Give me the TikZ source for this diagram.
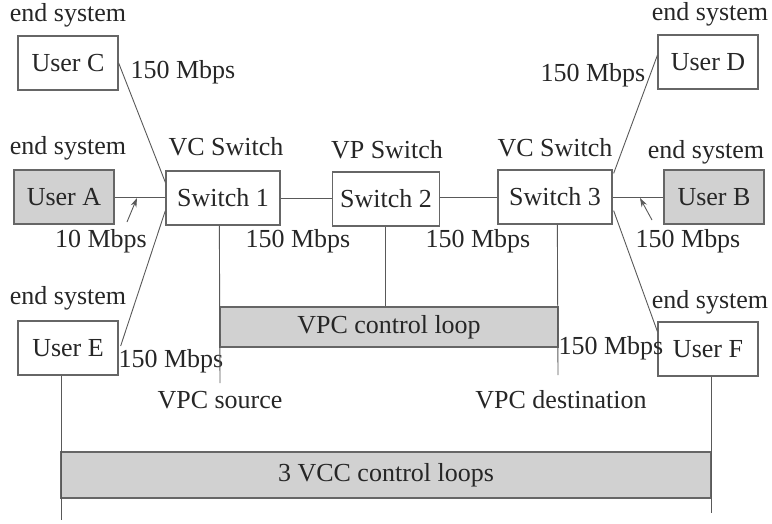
\documentclass[tikz,border=0pt]{standalone}
\usepackage{fontspec}
\setmainfont{Liberation Serif}
\usetikzlibrary{calc,arrows.meta}
\begin{document}
\begin{tikzpicture}[x=1pt,y=-1pt,
  every node/.style={font=\fontsize{26}{29}\selectfont, text=black!85, inner sep=0pt},
  box/.style={draw=black!60, line width=1.3pt, minimum width=100pt, minimum height=54pt, fill=white},
  userg/.style={box, fill=black!18},
  swbox/.style={box, minimum width=114pt},
  loopbox/.style={draw=black!60, line width=1.3pt, fill=black!18, inner sep=0pt},
  wire/.style={draw=black!65, line width=0.9pt},
  ptr/.style={wire, -{Stealth[length=9pt,width=6pt]}}]
\useasboundingbox (0,0) rectangle (772,523);
% loop boxes
\node[loopbox, minimum width=338pt, minimum height=40pt] (vpc) at (389,327) {VPC control loop};
\node[loopbox, minimum width=650pt, minimum height=46pt] (vcc) at (386,475) {3 VCC control loops};
% nodes
\node[box] (C) at (68,63) {User C};
\node[userg] (A) at (64,197) {User A};
\node[box] (E) at (68,348) {User E};
\node[box] (D) at (708,62) {User D};
\node[userg] (B) at (714,197) {User B};
\node[box] (F) at (708,349) {User F};
\node[swbox] (S1) at (223,198) {Switch 1};
\node[box, minimum width=107pt] (S2) at (386,199) {Switch 2};
\node[swbox] (S3) at (555,197) {Switch 3};
% titles
\node (tC) at (68,15) {end system};
\node (tA) at (68,148) {end system};
\node (tE) at (68,298) {end system};
\node (tD) at (710,14) {end system};
\node (tB) at (706,152) {end system};
\node (tF) at (710,302) {end system};
\node (t1) at (226,147) {VC Switch};
\node (t2) at (387,150) {VP Switch};
\node (t3) at (555,148) {VC Switch};
% rate labels
\node (rC) at (183,72) {150 Mbps};
\node (rA) at (101,241) {10 Mbps};
\node (r12) at (298,241) {150 Mbps};
\node (r23) at (478,241) {150 Mbps};
\node (rD) at (593,75) {150 Mbps};
\node (rB) at (688,241) {150 Mbps};
\node (rE) at (171,361) {150 Mbps};
\node (rF) at (611,348) {150 Mbps};
\node (src) at (220,400) {VPC source};
\node (dst) at (561,400) {VPC destination};
% coordinates
\coordinate (s1v) at ($(S1.south west)+(54,0)$);
\coordinate (s2v) at ($(S2.south west)+(54,0)$);
\coordinate (s3v) at ($(S3.south west)+(60,0)$);
\coordinate (s1end) at (220,383);
\coordinate (s3end) at (558,375);
\coordinate (eend) at (61,520);
\coordinate (fend) at (711,513);
% connectors
\draw[wire] (C.east) -- ($(S1.north west)+(0,12)$);
\draw[wire] (A.east) -- (A.east -| S1.west);
\draw[wire] ($(E.east)+(2,-2)$) -- ($(S1.south west)+(0,-15)$);
\draw[wire] (S1.east) -- (S1.east -| S2.west);
\draw[wire] (S2.east |- S3.west) -- (S3.west);
\draw[wire] (S3.east) -- (S3.east -| B.west);
\draw[wire] ($(S3.north east)+(1,4)$) -- ($(D.north west)+(0,21)$);
\draw[wire] ($(S3.south east)+(1,-14)$) -- ($(F.north west)+(0,10)$);
\draw[wire] (s1v) -- (s1end);
\draw[wire] (s2v) -- (vpc.north -| s2v);
\draw[wire] (s3v) -- (s3end);
\draw[wire] (E.south -| eend) -- (eend);
\draw[wire] (F.south -| fend) -- (fend);
\draw[ptr] (127,222) -- (137,198);
\draw[ptr] (652,220) -- (640,198);
\end{tikzpicture}
\end{document}
